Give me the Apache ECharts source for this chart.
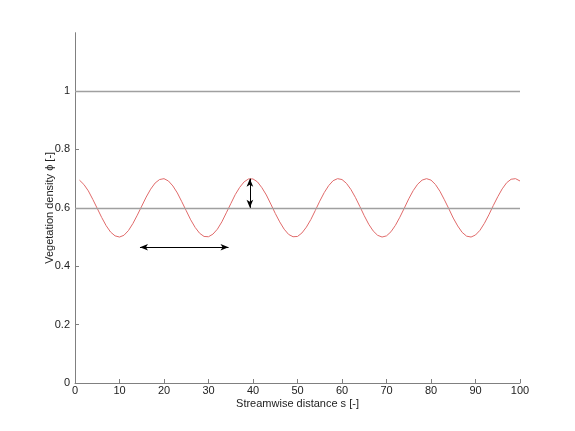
<!DOCTYPE html>
<html>
<head>
<meta charset="utf-8">
<script src="https://cdn.jsdelivr.net/npm/echarts@6/dist/echarts.min.js"></script>
<style>html,body{margin:0;padding:0;background:#fff;}#c{width:575px;height:431px;}</style>
</head>
<body>
<div id="c"></div>
<script>
const sValues = [1,2,3,4,5,6,7,8,9,10,11,12,13,14,15,16,17,18,19,20,21,22,23,24,25,26,27,28,29,30,31,32,33,34,35,36,37,38,39,40,41,42,43,44,45,46,47,48,49,50,51,52,53,54,55,56,57,58,59,60,61,62,63,64,65,66,67,68,69,70,71,72,73,74,75,76,77,78,79,80,81,82,83,84,85,86,87,88,89,90,91,92,93,94,95,96,97,98,99,100];
const phiValues = [0.695,0.680,0.658,0.629,0.598,0.567,0.539,0.517,0.504,0.500,0.506,0.522,0.546,0.575,0.606,0.637,0.664,0.685,0.697,0.700,
0.692,0.675,0.651,0.621,0.590,0.559,0.533,0.513,0.502,0.501,0.510,0.527,0.552,0.583,0.614,0.645,0.670,0.689,0.699,0.699,
0.689,0.669,0.644,0.613,0.581,0.552,0.527,0.509,0.501,0.502,0.514,0.534,0.560,0.591,0.623,0.652,0.676,0.693,0.700,0.697,
0.684,0.663,0.636,0.605,0.573,0.544,0.521,0.506,0.500,0.504,0.518,0.540,0.568,0.599,0.631,0.659,0.681,0.695,0.700,0.695,
0.680,0.657,0.628,0.597,0.565,0.538,0.516,0.503,0.500,0.507,0.523,0.547,0.576,0.608,0.638,0.665,0.686,0.698,0.700,0.692];
const refLevels = [1, 0.6];
const wavelengthArrow = [[14.6, 0.465], [34.5, 0.465]];
const amplitudeArrow = [[39.3, 0.6], [39.3, 0.7]];
const yTicks = [0, 0.2, 0.4, 0.6, 0.8, 1];
const xTicks = [0,10,20,30,40,50,60,70,80,90,100];

const chart = echarts.init(document.getElementById('c'));
const axisCol = '#808080';
const txt = '#222';
const font = 'Liberation Sans, Arial, sans-serif';
chart.setOption({
  animation: false,
  grid: {left: 75, right: 55, top: 32.7, bottom: 48},
  xAxis: {
    type: 'value', min: 0, max: 100, interval: 10,
    name: 'Streamwise distance s [-]', nameLocation: 'middle', nameGap: 15, nameMoveOverlap: false,
    nameTextStyle: {color: txt, fontSize: 11, fontFamily: font},
    axisLine: {onZero: false, lineStyle: {color: axisCol, width: 1}},
    axisTick: {inside: true, length: 4, lineStyle: {color: axisCol}, customValues: xTicks},
    axisLabel: {color: txt, fontSize: 11, fontFamily: font, margin: 2, customValues: xTicks},
    splitLine: {show: false}
  },
  yAxis: {
    type: 'value', min: 0, max: 1.2,
    name: 'Vegetation density \u03d5 [-]', nameLocation: 'middle', nameGap: 20, nameMoveOverlap: false,
    nameTextStyle: {color: txt, fontSize: 11, fontFamily: font},
    axisLine: {show: true, lineStyle: {color: axisCol, width: 1}},
    axisTick: {show: true, inside: true, length: 4, lineStyle: {color: axisCol}, customValues: yTicks},
    axisLabel: {color: txt, fontSize: 11, fontFamily: font, margin: 5, customValues: yTicks,
      formatter: v => String(Math.round(v*10)/10)},
    splitLine: {show: false}
  },
  series: [
    {
      type: 'line', symbol: 'none', silent: true,
      data: sValues.map((s, i) => [s, phiValues[i]]),
      lineStyle: {color: '#e06a6a', width: 1},
      markLine: {
        silent: true, symbol: 'none', label: {show: false},
        lineStyle: {color: '#a0a0a0', width: 1.3, type: 'solid'},
        data: refLevels.map(v => [{coord: [0, v]}, {coord: [100, v]}])
      },
      z: 3
    },
    {
      type: 'line', symbol: 'none', silent: true, data: [],
      markLine: {
        silent: true, symbol: ['arrow', 'arrow'], symbolSize: [5, 8],
        label: {show: false},
        lineStyle: {color: '#000', width: 1, type: 'solid'},
        itemStyle: {color: '#000'},
        data: [
          [{coord: wavelengthArrow[0]}, {coord: wavelengthArrow[1]}],
          [{coord: amplitudeArrow[0]}, {coord: amplitudeArrow[1]}]
        ]
      },
      z: 4
    }
  ]
});
</script>
</body>
</html>
